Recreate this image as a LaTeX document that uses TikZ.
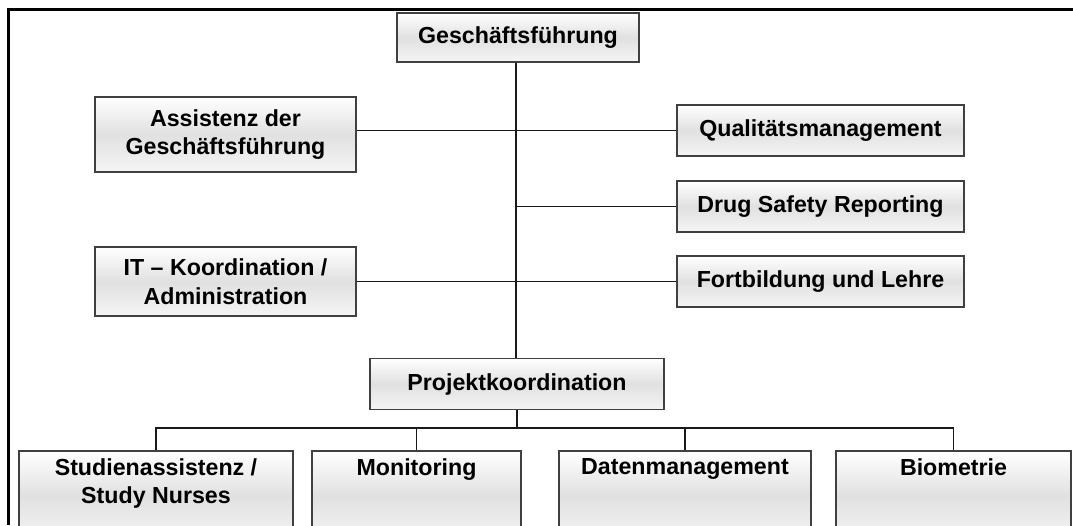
\documentclass[tikz,border=0pt]{standalone}
\usepackage{fontspec}
\setmainfont{Liberation Sans}
\begin{document}
\begin{tikzpicture}[x=1pt,y=-1pt,
  lbl/.style={font=\bfseries\fontsize{23.2}{28.5}\selectfont, align=center},
  orgbox/.style={lbl, draw=black!75, line width=1.2pt, rectangle, inner sep=0pt,
    top color=white, bottom color=white!96!black, middle color=white!88!black},
  conn/.style={draw=black!90, line width=1.5pt},
  frameline/.style={draw=black, line width=2.4pt}]
\clip (0,0) rectangle (1073,525);
\fill[white] (0,0) rectangle (1073,525);
% frame
\coordinate (fbl) at (8.5,525);
\coordinate (ftl) at (8.5,9.3);
\coordinate (ftr) at (1073,9.3);
\draw[frameline] (fbl) -- (ftl) -- (ftr);
% boxes
\node[orgbox, minimum width=242pt, minimum height=49pt] (gf) at (518,37.5) {Geschäftsführung};
\node[orgbox, minimum width=261pt, minimum height=75pt] (ass) at (225.5,134.5) {Assistenz der\\Geschäftsführung};
\node[orgbox, minimum width=287pt, minimum height=51pt] (qm) at (820.5,130.5) {Qualitätsmanagement};
\node[orgbox, minimum width=287pt, minimum height=51pt] (dsr) at (820.5,206.5) {Drug Safety Reporting};
\node[orgbox, minimum width=287pt, minimum height=51pt] (fl) at (820.5,281.5) {Fortbildung und Lehre};
\node[orgbox, minimum width=261pt, minimum height=69pt] (it) at (225.5,281.5) {IT -- Koordination /\\Administration};
\node[orgbox, minimum width=294pt, minimum height=51pt] (pk) at (517,384) {Projektkoordination};
% bottom row (cut off at the lower edge)
\node[orgbox, minimum width=274pt, minimum height=90pt] (sa) at (156,496) {};
\node[orgbox, minimum width=209pt, minimum height=90pt] (mo) at (416.5,496) {};
\node[orgbox, minimum width=252pt, minimum height=90pt] (dm) at (685,496) {};
\node[orgbox, minimum width=235pt, minimum height=90pt] (bio) at (953.5,496) {};
\node[lbl, anchor=north, inner sep=0pt] (sat) at (156,458) {Studienassistenz /\\Study Nurses};
\node[lbl, anchor=north, inner sep=0pt] (mot) at (416.5,458) {Monitoring};
\node[lbl, anchor=north, inner sep=0pt] (dmt) at (685,458) {Datenmanagement};
\node[lbl, anchor=north, inner sep=0pt] (biot) at (953.5,458) {Biometrie};
% connectors
\coordinate (t) at (516,0);
\coordinate (bus) at (0,428);
\draw[conn] (t |- gf.south) -- (t |- pk.north);
\draw[conn] (ass.east |- qm.west) -- (qm.west);
\draw[conn] (t |- dsr.west) -- (dsr.west);
\draw[conn] (it.east) -- (fl.west);
\draw[conn] (pk.south) -- (pk.south |- bus);
\draw[conn] (sa.north) -- (sa.north |- bus) -- (bio.north |- bus) -- (bio.north);
\draw[conn] (mo.north |- bus) -- (mo.north);
\draw[conn] (dm.north |- bus) -- (dm.north);
\end{tikzpicture}
\end{document}
